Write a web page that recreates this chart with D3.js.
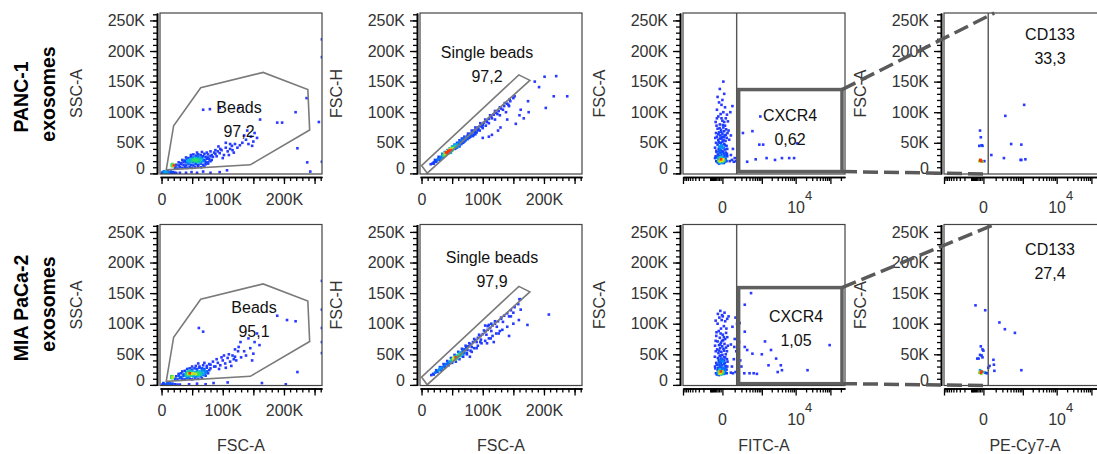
<!DOCTYPE html>
<html>
<head>
<meta charset="utf-8">
<script src="https://cdn.jsdelivr.net/npm/d3@7"></script>
<style>
  body { margin: 0; background: #fff; }
  svg { display: block; }
  text { font-family: Arial, "Liberation Sans", sans-serif; }
</style>
</head>
<body>
<div id="chart"></div>
<script>
// ---------- data (FSC/SSC in K, fluorescence in raw units) ----------
const rowNames = [["PANC-1", "exosomes"], ["MIA PaCa-2", "exosomes"]];
const yTitles = ["SSC-A", "FSC-H", "FSC-A", "FSC-A"];
const xTitles = ["FSC-A", "FSC-A", "FITC-A", "PE-Cy7-A"];
const gateNames = ["Beads", "Single beads", "CXCR4", "CD133"];
const pancPct = ["97,2", "97,2", "0,62", "33,3"];
const miaPct = ["95,1", "97,9", "1,05", "27,4"];
const linMajor = [0, 50, 100, 150, 200, 250];
const linLabelled = [0, 100, 200];
const biexMajor = [-1000, 0, 1000, 10000, 100000];

// gates
const beadsGate = [[7.7, 5.7], [19.8, 77.9], [64, 140], [166, 165], [239, 137], [242, 71], [145, 14]];
const singleGate = [[0, 12.8], [9.3, 0.3], [177, 152], [159, 161]];
const cxcr4Low = 125;               // FITC threshold
const cxcr4High = 215000;
const cxcr4Top = [137, 159];        // FSC-A upper bound, per row
const cxcr4Bottom = [3, 2];
const cd133Low = 30;

// events
const pancBeads = [
  [1,0.5],[3,1.5],[5,0.5],[6,2.5],[8,1],[9,3],[11,0.5],[12,2],[14,1],[15,3],[17,0.5],[19,2],[21,1],[23,0.5],[4,3.5],[10,4.5],[2,2],[7,0.5],
  [17,13],[18,14],[19,13],[18,12],[19,15],[17,15],[20,14],[18,13],[19,12],[20,13],[18,15],[17,12],
  [22,9],[26,8],[30,10],[34,9],[38,10],[42,9],[46,10],[50,9],[55,10],[60,11],[65,10],[70,11],
  [23,12],[24,14],[28,13],[32,15],[36,14],[40,13],[44,15],[48,14],[52,13],[56,15],[60,14],[64,16],[68,14],[72,15],[76,16],
  [28,18],[32,17],[36,19],[40,18],[44,17],[48,19],[52,18],[56,17],[60,19],[64,18],[68,20],[72,19],[76,18],[80,20],
  [34,22],[38,21],[42,23],[46,22],[50,21],[54,23],[58,22],[62,21],[66,23],[70,22],[74,24],[78,23],[82,22],
  [40,26],[44,25],[48,27],[52,26],[56,25],[60,27],[64,26],[68,28],[72,27],[76,26],[80,28],[84,27],
  [48,30],[52,31],[56,29],[60,31],[64,30],[70,32],[76,31],[82,30],[88,32],
  [58,34],[66,35],[74,34],[80,36],[86,34],[92,36],
  [42,20],[46,20],[50,24],[54,20],[58,24],[62,24],[66,20],[45,17],[55,21],[60,22],[64,22],[50,19],[48,22],[52,22],[56,23],[62,18],[58,19],[44,21],[54,25],[66,25],
  [90,28],[95,33],[98,38],[102,30],[105,42],[108,36],[112,40],[115,45],[118,34],[120,48],[124,42],[128,46],[100,25],[110,30],[93,44],[105,50],[116,38],[96,40],[88,38],[112,48],
  [132,50],[138,55],[142,48],[146,60],[150,52],[152,66],[156,58],[135,62],[140,70],[148,45],
  [68,104],[79,105],[95,107],[126,107],[161,88],[189,83],[197,83],[219,100],[237,123],[222,41],[238,18],[243,3],[262,219],[262,190],[257,84],[262,19],
  [24,0.5],[30,1],[40,1],[49,2],[58,1],[68,3],[80,1],[95,2],[107,5]
];
const miaBeads = [
  [1,0.5],[4,1.5],[7,0.5],[9,2],[12,1],[15,0.5],[18,2],[22,1],[26,0.5],[3,3],[10,3.5],[14,2.5],
  [16,12],[17,13],[18,12],[17,11],[16,14],[18,14],[19,13],[17,12],[18,13],
  [22,10],[26,9],[30,11],[34,10],[38,9],[42,11],[46,10],[50,9],[55,11],[60,10],[66,11],
  [24,14],[28,15],[32,13],[36,15],[40,14],[44,13],[48,15],[52,14],[56,13],[60,15],[64,14],[68,16],[72,15],
  [28,18],[32,19],[36,17],[40,19],[44,18],[48,17],[52,19],[56,18],[60,17],[64,19],[68,18],[72,20],[76,19],
  [34,22],[38,23],[42,21],[46,23],[50,22],[54,21],[58,23],[62,22],[66,24],[70,23],[74,22],[78,24],
  [42,26],[46,27],[50,25],[54,27],[58,26],[62,28],[66,27],[70,26],[74,28],[80,27],
  [50,30],[56,31],[62,30],[68,32],[74,31],[80,33],[86,30],
  [60,35],[70,36],[78,34],[84,38],
  [40,16],[44,16],[48,20],[52,16],[56,20],[60,20],[64,16],[46,19],[50,18],[54,19],[58,17],[62,20],[42,18],[44,22],[66,21],[70,18],[58,15],
  [88,30],[92,36],[96,32],[100,40],[104,35],[108,44],[112,38],[116,48],[118,42],[122,40],[98,45],[110,50],[105,28],[94,26],[90,42],[114,31],[102,48],[120,46],
  [126,62],[129,70],[142,76],[156,84],[150,51],[135,55],[145,60],[138,48],[160,65],[130,45],[152,70],[125,55],
  [61,93],[68,87],[189,113],[205,106],[219,104],[222,21],[203,1],[164,3],[262,170],[262,123],[262,93],[262,70],[262,52],[120,58],[148,40],
  [30,0.5],[45,1],[58,2],[72,1],[85,3],[108,4]
];
const pancSingle = [
  [15,15],[18,16],[20,18],[22,19],[24,21],[26,22],[28,24],[30,25],[32,27],[34,28],[36,30],[38,31],[40,33],[42,34],[44,36],[46,37],[48,39],[50,41],[52,42],[54,44],[56,45],[58,47],[60,49],[62,50],[64,52],[66,53],[68,55],[70,57],[72,58],[75,61],[78,63],[80,65],[83,67],[86,70],[89,72],[92,75],[95,77],[98,80],[102,83],[106,86],[110,89],[114,93],[118,96],[122,99],[126,102],[130,106],[135,110],[140,114],[145,118],[150,123],
  [22,22],[28,27],[34,32],[38,35],[42,38],[46,41],[50,44],[54,47],[58,50],[62,54],[66,57],[70,60],[76,65],[82,70],[88,75],[96,82],[104,88],[112,95],[120,102],[128,108],[136,115],[144,121],[152,126],
  [36,29],[38,30],[40,32],[42,33],[44,35],[46,36],[48,38],[50,40],[52,41],[40,34],[44,37],[48,41],[42,36],[46,39],[50,42],[54,45],[38,33],[56,47],
  [30,22],[35,26],[40,30],[45,33],[50,37],[55,40],[60,45],[65,48],[70,52],[75,56],[80,60],[85,63],[90,67],[95,70],[100,74],[105,78],[110,82],[120,88],[128,95],[138,100],[48,34],[58,42],[68,50],[78,58],[88,64],[62,44],[72,54],[84,61],[92,71],[100,79],
  [20,16],[24,19],[27,23],[31,24],[35,28],[39,30],[43,33],[47,36],[51,39],[55,42],[59,46],[63,48],[67,51],[71,55],[76,59],[81,63],[87,67],[93,72],[99,76],[107,84],[115,90],[124,97],[133,104],[142,112],
  [201,158],[220,159],[192,141],[216,126],[238,126],[203,107],[174,118],[162,104],[167,90],[154,81],[129,75],[115,63],[143,110],[185,150],[140,88],[125,70],[110,60],[100,58],[160,95],[175,100]
];
const miaSingle = [
  [16,16],[19,18],[22,20],[25,22],[28,24],[31,27],[34,29],[37,31],[40,34],[43,36],[46,38],[49,41],[52,43],[55,46],[58,48],[61,51],[64,53],[67,56],[70,58],[73,61],[76,63],[80,66],[84,70],[88,73],[92,77],[96,80],[100,83],[104,87],[108,90],[112,93],[116,97],[120,100],[125,104],[130,108],[135,113],[140,117],[146,122],[152,127],[158,132],[160,140],
  [24,24],[30,29],[36,34],[42,39],[48,44],[54,49],[60,54],[66,59],[72,64],[78,68],[86,75],[94,82],[102,89],[108,96],[104,97],[110,98],[114,100],[120,104],[130,110],
  [48,38],[52,40],[56,42],[60,45],[64,47],[68,50],[54,44],[58,46],[62,49],[66,51],[70,53],[50,42],[56,45],[60,47],[64,50],[52,44],[74,50],
  [32,24],[38,28],[44,32],[50,36],[56,38],[62,42],[68,46],[74,52],[80,56],[86,60],[92,64],[98,68],[104,72],[110,76],[116,80],[122,84],[128,88],
  [20,17],[26,21],[29,25],[33,26],[39,30],[45,35],[51,39],[57,43],[63,48],[69,52],[75,57],[82,62],[90,70],[97,74],[106,82],[114,88],[123,95],[133,103],[143,112],[150,118],
  [161,140],[162,123],[146,112],[159,106],[173,98],[140,95],[132,90],[143,80],[126,84],[113,76],[107,68],[96,70],[82,54],[79,46],[208,115],[150,100],[118,70],[90,60]
];
const pancCxcr4 = [
  [-30,18],[-15,17],[0,18],[15,19],[-20,20],[-5,21],[10,21],[-10,22],[-8,23],[-12,22],[-9,21],[-11,23],[5,23],[-25,24],[20,24],[-35,26],[0,26],[12,27],[-18,28],[30,28],[-5,30],[-28,31],[8,32],[-15,34],[20,34],[0,36],[-40,37],[-8,38],[15,39],[-22,40],[5,42],[-10,43],[-3,44],[-6,45],[-4,46],[-7,44],[25,45],[-30,47],[10,48],[-15,50],[0,52],[18,53],[-25,55],[-5,57],[8,59],[-35,60],[-12,62],[20,63],[0,65],[-20,67],[10,69],[-8,71],[-30,73],[5,75],[15,78],[-15,80],[-45,84],[0,86],[20,90],[-25,93],[-10,97],[5,100],[-35,104],[15,108],[-5,112],[-20,116],[0,120],[-30,125],[10,130],[-15,138],[5,150],
  [-20,16],[-2,17],[8,17],[-14,19],[3,20],[-25,21],[18,22],[-3,24],[6,25],[-15,26],[-22,29],[12,30],[-8,33],[4,35],[-18,36],[-12,40],[8,41],[-20,44],[14,46],[-8,49],[-22,51],[6,54],[-14,57],[-2,60],[12,62],[-25,64],[-6,68],[-16,74],[2,79],[10,84],[-5,90],
  [-40,20],[-45,28],[-38,35],[-50,42],[-42,50],[-48,58],[25,20],[28,32],[30,40],[26,58],[32,66],[-42,66],[-38,78],[22,72],[-50,25],[-35,90],[28,96],
  [50,20],[70,22],[90,19],[60,30],[45,55],[80,40],[100,25],[40,70],[55,100],[120,20],[35,85],[60,62],[75,110],
  [230,66],[500,69],[900,93],[835,47],[1100,47],[1400,25],[330,19],[640,23],[4000,25],[6500,25],[9000,25],[11000,49],[2500,22],[170,137]
];
const miaCxcr4 = [
  [-35,17],[-20,16],[-5,17],[10,18],[-28,19],[-12,19],[4,19],[-10,21],[-8,20],[-12,21],[-9,22],[-11,20],[18,20],[-22,22],[0,22],[-30,24],[12,24],[-16,25],[25,25],[-4,26],[-25,28],[6,28],[-14,30],[18,31],[-2,32],[-36,33],[-9,35],[14,36],[-20,37],[3,38],[-12,40],[-5,42],[-7,43],[-3,41],[28,42],[-28,44],[9,45],[-16,47],[0,49],[20,50],[-24,52],[-6,54],[10,56],[-33,58],[-13,60],[22,61],[-1,63],[-20,65],[12,67],[-8,69],[-30,71],[4,73],[16,75],[-15,77],[-40,80],[2,82],[22,85],[-22,88],[-8,92],[8,96],[-30,100],[16,104],[-4,106],[-18,110],[2,112],[-28,116],[12,118],[-12,121],[-2,114],[30,108],[40,112],
  [-18,18],[-2,19],[7,21],[-16,22],[4,24],[-24,26],[15,27],[-6,28],[-18,33],[8,34],[-10,37],[10,40],[-22,41],[16,45],[-10,48],[-20,56],[6,59],[-12,66],[-2,72],[8,78],[-10,84],
  [-42,19],[-48,27],[-40,36],[-52,46],[-44,55],[-50,64],[26,19],[30,30],[32,38],[28,55],[34,64],[-45,72],[-38,86],[24,92],[-50,30],[30,78],[-45,105],
  [60,20],[80,19],[110,21],[140,19],[70,30],[90,42],[120,55],[60,66],[100,75],[75,95],[130,100],[110,110],[150,88],[180,40],[200,30],[95,62],[160,70],
  [450,150],[270,131],[170,101],[270,87],[270,62],[330,57],[500,51],[1000,50],[1250,71],[1900,57],[2700,43],[1600,32],[3700,32],[3000,21],[4000,24],[22000,24],[95000,65],[260,19],[400,19],[550,19],[700,18]
];
const pancCd133 = [
  [-20,70],[-15,59],[-25,45],[-10,46],[-5,45],[-25,20],[-15,21],[-5,19],[5,20],[-20,22],[-12,20],[-18,21],[-16,21],[-17,22],
  [55,30],[230,25],[260,94],[420,48],[900,47],[850,22],[900,22],[1200,23],[1100,112]
];
const miaCd133 = [
  [-55,130],[10,122],[150,102],[250,91],[560,85],[-15,63],[-5,58],[0,56],[-20,49],[-10,48],[-30,43],[-40,43],[-5,45],
  [75,41],[80,33],[40,31],[30,28],[-20,24],[-10,22],[-25,20],[-15,19],[0,21],[10,20],[-12,18],[-18,21],[-14,20],[900,24],[85,23],[20,19]
];

const events = [[pancBeads, pancSingle, pancCxcr4, pancCd133], [miaBeads, miaSingle, miaCxcr4, miaCd133]];
const pcts = [pancPct, miaPct];

// ---------- layout ----------
const boxLeft = [160, 420, 683, 944];
const boxTop = [13, 224.5];
const boxW = 162, boxH = 161;
const labelPos = [   // gate label anchor relative to box (x centre, baseline of first line)
  [[79, 100], [67, 45], [107, 108], [106, 27]],
  [[94, 88], [72, 38], [113, 97], [106, 30]]
];

const svg = d3.select("#chart").append("svg")
    .attr("width", 1097)
    .attr("height", 454);

const fmtK = d => d === 0 ? "0" : d + "K";
const heat = d3.scaleLinear()
    .domain([0, 0.35, 0.6, 0.8, 0.93, 1])
    .range(["#2a3aff", "#1040ff", "#00b0f0", "#30e060", "#f0e810", "#ff3010"])
    .clamp(true);

// relative local density in pixel space
function density(pts, xs, ys) {
    const p = pts.map(d => [xs(d[0]), ys(d[1])]);
    const cnt = p.map(a => p.filter(b => (a[0]-b[0])**2 + (a[1]-b[1])**2 <= 9).length);
    const mx = d3.max(cnt);
    return cnt.map(n => (n - 1) / Math.max(1, mx - 1));
}

const scales = {};

function drawPanel(r, c) {
    const x0 = boxLeft[c], y0 = boxTop[r];
    const xs = c < 2
        ? d3.scaleLinear().domain([-2.5, 262.144]).range([x0, x0 + boxW])
        : d3.scaleSymlog().constant(80).domain([-1000, 262144]).range([x0, x0 + boxW]);
    const ys = d3.scaleLinear().domain([-1, 262.144]).range([y0 + boxH, y0]);
    scales[`${r}${c}`] = {xs, ys};

    const g = svg.append("g");
    const clipId = `clip${r}${c}`;
    svg.append("clipPath").attr("id", clipId)
        .append("rect").attr("x", x0).attr("y", y0).attr("width", boxW).attr("height", boxH);

    // events
    const pts = events[r][c];
    const t = density(pts, xs, ys);
    const order = d3.range(pts.length).sort((a, b) => t[a] - t[b]);
    g.append("g").attr("clip-path", `url(#${clipId})`)
        .selectAll("rect").data(order).join("rect")
        .attr("x", i => xs(pts[i][0]) - 1.3)
        .attr("y", i => ys(pts[i][1]) - 1.3)
        .attr("width", 2.6).attr("height", 2.6)
        .attr("fill", i => heat(t[i]));

    // gates
    const gg = g.append("g").attr("clip-path", `url(#${clipId})`).attr("fill", "none");
    if (c === 0 || c === 1) {
        const poly = c === 0 ? beadsGate : singleGate;
        gg.append("path")
            .attr("d", d3.line().x(d => xs(d[0])).y(d => ys(d[1]))(poly) + "Z")
            .attr("stroke", "#7a7a7a").attr("stroke-width", 1.6);
    } else if (c === 2) {
        gg.append("line")
            .attr("x1", xs(cxcr4Low)).attr("x2", xs(cxcr4Low))
            .attr("y1", y0).attr("y2", y0 + boxH)
            .attr("stroke", "#555").attr("stroke-width", 1.4);
        gg.append("rect")
            .attr("x", xs(cxcr4Low) + 2).attr("y", ys(cxcr4Top[r]))
            .attr("width", xs(cxcr4High) - xs(cxcr4Low) - 2)
            .attr("height", ys(cxcr4Bottom[r]) - ys(cxcr4Top[r]))
            .attr("stroke", "#5f5f5f").attr("stroke-width", 3.5);
    } else {
        gg.append("line")
            .attr("x1", xs(cd133Low)).attr("x2", xs(cd133Low))
            .attr("y1", y0).attr("y2", y0 + boxH)
            .attr("stroke", "#555").attr("stroke-width", 1.4);
    }

    // frame
    g.append("rect")
        .attr("x", x0).attr("y", y0).attr("width", boxW).attr("height", boxH)
        .attr("fill", "none").attr("stroke", "#444").attr("stroke-width", 1.2);

    // gate labels
    const lp = labelPos[r][c];
    [gateNames[c], pcts[r][c]].forEach((txt, k) => {
        g.append("text")
            .attr("x", x0 + lp[0]).attr("y", y0 + lp[1] + k * 24)
            .attr("text-anchor", "middle")
            .style("font-size", "16px").attr("fill", "#111")
            .text(txt);
    });

    // y axis
    const ya = g.append("g").attr("transform", `translate(${x0 - 3},0)`);
    ya.append("g").call(d3.axisLeft(ys).tickValues(d3.range(0, 261, 10)).tickSize(4).tickFormat("").tickSizeOuter(0));
    ya.append("g").call(d3.axisLeft(ys).tickValues(linMajor).tickSize(7).tickPadding(5).tickFormat(fmtK).tickSizeOuter(0))
        .selectAll("text").filter(d => d === 0).attr("y", -5);

    // x axis
    const xa = g.append("g").attr("transform", `translate(0,${y0 + boxH + 3})`);
    if (c < 2) {
        xa.append("g").call(d3.axisBottom(xs).tickValues(d3.range(0, 261, 10)).tickSize(4).tickFormat("").tickSizeOuter(0));
        xa.append("g").call(d3.axisBottom(xs).tickValues(linMajor).tickSize(7).tickPadding(9.6)
            .tickFormat(d => linLabelled.includes(d) ? fmtK(d) : "").tickSizeOuter(0));
    } else {
        const minor = [].concat(d3.range(-900, 0, 100), d3.range(-90, 0, 10), d3.range(100, 1000, 100),
            d3.range(2000, 10000, 1000), d3.range(20000, 100000, 10000), [200000]);
        xa.append("g").call(d3.axisBottom(xs).tickValues(minor).tickSize(4).tickFormat("").tickSizeOuter(0));
        xa.append("g").call(d3.axisBottom(xs).tickValues(biexMajor).tickSize(7).tickFormat("").tickSizeOuter(0));
        xa.append("text").attr("x", xs(0)).attr("y", 36)
            .attr("text-anchor", "middle").attr("fill", "#333").style("font-size", "16px").text("0");
        const p4 = xa.append("text").attr("x", xs(10000) + 4).attr("y", 36)
            .attr("text-anchor", "middle").attr("fill", "#333").style("font-size", "16px");
        p4.append("tspan").text("10");
        p4.append("tspan").attr("dy", -13).style("font-size", "13px").text("4");
    }
    [ya, xa].forEach(a => {
        a.selectAll(".domain").attr("stroke", "#000").attr("stroke-width", 1.6);
        a.selectAll(".tick line").attr("stroke", "#000").attr("stroke-width", 1.3);
        a.selectAll(".tick text").attr("fill", "#333").style("font-size", "16px")
            .style("font-family", "Arial, 'Liberation Sans', sans-serif");
    });

    // axis titles
    g.append("text")
        .attr("transform", `translate(${x0 - 78.5},${y0 + boxH / 2}) rotate(-90)`)
        .attr("text-anchor", "middle").attr("fill", "#333").style("font-size", "16px")
        .text(yTitles[c]);
    if (r === 1) {
        g.append("text")
            .attr("x", x0 + boxW / 2).attr("y", 451)
            .attr("text-anchor", "middle").attr("fill", "#333").style("font-size", "16px")
            .text(xTitles[c]);
    }
}

for (let r = 0; r < 2; r++) for (let c = 0; c < 4; c++) drawPanel(r, c);

// dashed connectors from CXCR4 gate to CD133 plot
for (let r = 0; r < 2; r++) {
    const s3 = scales[`${r}2`], s4 = scales[`${r}3`];
    const xR = s3.xs(cxcr4High);
    const lines = [
        [xR, s3.ys(cxcr4Top[r]), s4.xs(cd133Low) + 6, boxTop[r]],
        [xR, s3.ys(cxcr4Bottom[r]), s4.xs(cd133Low), boxTop[r] + boxH]
    ];
    lines.forEach(l => {
        svg.append("line")
            .attr("x1", l[0]).attr("y1", l[1]).attr("x2", l[2]).attr("y2", l[3])
            .attr("stroke", "#5a5a5a").attr("stroke-width", 3.5)
            .attr("stroke-dasharray", "15,6");
    });
}

// row labels
const rowCentre = [[97, 94], [308, 304]];
rowNames.forEach((names, r) => {
    [[28, names[0]], [55, names[1]]].forEach((d, k) => {
        svg.append("text")
            .attr("transform", `translate(${d[0]},${rowCentre[r][k]}) rotate(-90)`)
            .attr("text-anchor", "middle")
            .style("font-size", "19.5px").style("font-weight", "bold").attr("fill", "#000")
            .text(d[1]);
    });
});
</script>
</body>
</html>
